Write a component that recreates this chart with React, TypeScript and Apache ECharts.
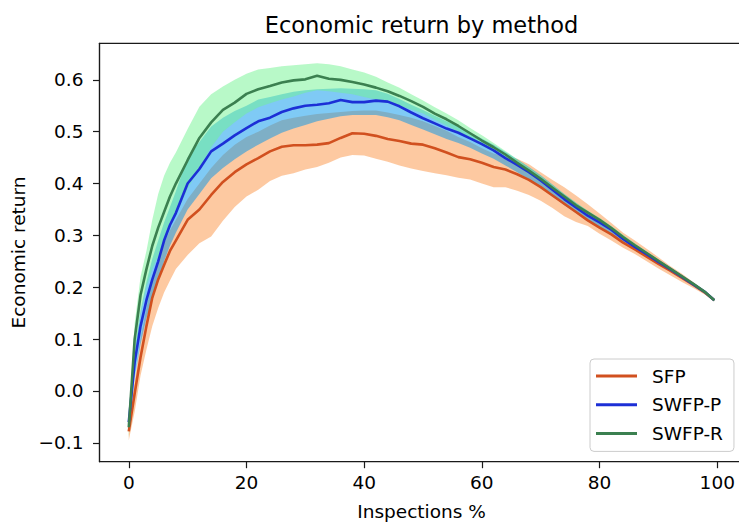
import React, { useEffect, useRef } from 'react';
import * as echarts from 'echarts';

const xs = [0, 1, 2, 3, 4, 5, 6, 7, 8, 10, 12, 14, 16, 18, 20, 22, 24, 26, 28, 30, 32, 34, 36, 38, 40, 42, 44, 46, 48, 50, 52, 54, 56, 58, 60, 62, 64, 66, 68, 70, 72, 74, 76, 78, 80, 82, 84, 86, 88, 90, 92, 94, 96, 98, 99.5];

const sfpMean = [-0.078, -0.005, 0.065, 0.125, 0.18, 0.215, 0.243, 0.27, 0.29, 0.33, 0.35, 0.378, 0.403, 0.422, 0.437, 0.449, 0.462, 0.471, 0.474, 0.474, 0.475, 0.478, 0.488, 0.497, 0.496, 0.492, 0.486, 0.482, 0.477, 0.475, 0.468, 0.46, 0.451, 0.447, 0.44, 0.432, 0.427, 0.418, 0.407, 0.393, 0.377, 0.361, 0.345, 0.329, 0.315, 0.302, 0.286, 0.273, 0.259, 0.245, 0.232, 0.218, 0.204, 0.189, 0.175];
const sfpUpper = [-0.072, 0.02, 0.1, 0.16, 0.215, 0.255, 0.285, 0.31, 0.33, 0.37, 0.4, 0.43, 0.455, 0.475, 0.49, 0.5, 0.512, 0.522, 0.527, 0.531, 0.534, 0.536, 0.538, 0.54, 0.541, 0.541, 0.537, 0.532, 0.527, 0.52, 0.511, 0.502, 0.49, 0.48, 0.468, 0.458, 0.452, 0.448, 0.437, 0.422, 0.407, 0.393, 0.377, 0.36, 0.342, 0.324, 0.305, 0.29, 0.274, 0.258, 0.241, 0.226, 0.209, 0.192, 0.177];
const sfpLower = [-0.095, -0.04, 0.03, 0.08, 0.125, 0.16, 0.19, 0.213, 0.235, 0.262, 0.285, 0.298, 0.328, 0.355, 0.375, 0.388, 0.405, 0.415, 0.42, 0.427, 0.432, 0.44, 0.45, 0.455, 0.454, 0.448, 0.442, 0.435, 0.429, 0.424, 0.42, 0.416, 0.411, 0.408, 0.4, 0.393, 0.393, 0.386, 0.378, 0.367, 0.353, 0.337, 0.326, 0.318, 0.303, 0.29, 0.276, 0.264, 0.25, 0.236, 0.223, 0.21, 0.198, 0.185, 0.173];

const swfpPMean = [-0.06, 0.055, 0.125, 0.175, 0.215, 0.25, 0.29, 0.32, 0.343, 0.4, 0.428, 0.462, 0.477, 0.493, 0.507, 0.52, 0.527, 0.538, 0.545, 0.55, 0.552, 0.555, 0.561, 0.557, 0.557, 0.56, 0.558, 0.549, 0.537, 0.526, 0.516, 0.506, 0.498, 0.487, 0.476, 0.464, 0.449, 0.436, 0.422, 0.406, 0.388, 0.37, 0.354, 0.338, 0.325, 0.311, 0.293, 0.278, 0.264, 0.249, 0.235, 0.22, 0.205, 0.19, 0.175];
const swfpPUpper = [-0.05, 0.08, 0.155, 0.21, 0.255, 0.29, 0.325, 0.355, 0.385, 0.45, 0.48, 0.51, 0.527, 0.54, 0.55, 0.562, 0.567, 0.572, 0.577, 0.58, 0.582, 0.583, 0.584, 0.583, 0.582, 0.58, 0.573, 0.563, 0.552, 0.542, 0.531, 0.52, 0.51, 0.499, 0.487, 0.475, 0.461, 0.447, 0.432, 0.416, 0.398, 0.38, 0.363, 0.347, 0.332, 0.317, 0.299, 0.283, 0.268, 0.253, 0.238, 0.223, 0.207, 0.192, 0.176];
const swfpPLower = [-0.075, 0.025, 0.09, 0.14, 0.175, 0.21, 0.25, 0.28, 0.305, 0.35, 0.38, 0.41, 0.43, 0.447, 0.462, 0.475, 0.487, 0.498, 0.506, 0.513, 0.52, 0.525, 0.53, 0.532, 0.532, 0.532, 0.528, 0.522, 0.513, 0.504, 0.495, 0.486, 0.478, 0.469, 0.458, 0.448, 0.435, 0.422, 0.408, 0.393, 0.376, 0.358, 0.343, 0.327, 0.315, 0.302, 0.286, 0.272, 0.258, 0.244, 0.231, 0.217, 0.203, 0.188, 0.174];

const swfpRMean = [-0.07, 0.1, 0.185, 0.235, 0.28, 0.315, 0.345, 0.375, 0.4, 0.445, 0.488, 0.518, 0.542, 0.556, 0.573, 0.582, 0.588, 0.595, 0.599, 0.601, 0.608, 0.602, 0.6, 0.596, 0.591, 0.585, 0.578, 0.569, 0.559, 0.548, 0.535, 0.524, 0.511, 0.497, 0.483, 0.47, 0.456, 0.44, 0.425, 0.409, 0.392, 0.375, 0.358, 0.344, 0.33, 0.314, 0.297, 0.281, 0.266, 0.251, 0.236, 0.221, 0.206, 0.19, 0.175];
const swfpRUpper = [-0.055, 0.13, 0.22, 0.27, 0.33, 0.38, 0.415, 0.44, 0.46, 0.505, 0.548, 0.572, 0.587, 0.6, 0.612, 0.62, 0.623, 0.626, 0.628, 0.63, 0.632, 0.63, 0.626, 0.62, 0.614, 0.606, 0.595, 0.585, 0.572, 0.56, 0.547, 0.535, 0.522, 0.507, 0.493, 0.478, 0.463, 0.447, 0.431, 0.415, 0.397, 0.38, 0.363, 0.348, 0.334, 0.318, 0.301, 0.285, 0.269, 0.253, 0.238, 0.223, 0.207, 0.191, 0.176];
const swfpRLower = [-0.09, 0.07, 0.15, 0.2, 0.235, 0.26, 0.29, 0.315, 0.34, 0.39, 0.43, 0.47, 0.5, 0.518, 0.535, 0.547, 0.555, 0.562, 0.568, 0.575, 0.58, 0.578, 0.575, 0.572, 0.567, 0.562, 0.558, 0.55, 0.543, 0.535, 0.523, 0.512, 0.5, 0.487, 0.473, 0.462, 0.449, 0.434, 0.419, 0.403, 0.387, 0.37, 0.353, 0.34, 0.326, 0.31, 0.293, 0.277, 0.263, 0.249, 0.234, 0.219, 0.204, 0.189, 0.174];

const seriesNames = ['SFP', 'SWFP-P', 'SWFP-R'];
const xTicks = [0, 20, 40, 60, 80, 100];
const yTicks = [-0.1, 0, 0.1, 0.2, 0.3, 0.4, 0.5, 0.6];

const FONT = 'DejaVu Sans';

function band(name: string, upper: number[], lower: number[], fill: string) {
  return {
    type: 'custom',
    name: name + ' band',
    silent: true,
    z: 1,
    data: [[xs[0], upper[0]]],
    renderItem: (_params: any, api: any) => {
      const pts: number[][] = [];
      for (let i = 0; i < xs.length; i++) pts.push(api.coord([xs[i], upper[i]]));
      for (let i = xs.length - 1; i >= 0; i--) pts.push(api.coord([xs[i], lower[i]]));
      return { type: 'polygon', shape: { points: pts }, style: { fill } };
    },
  };
}

function line(name: string, vals: number[], color: string) {
  return {
    type: 'line',
    name,
    z: 3,
    color,
    symbol: 'none',
    showSymbol: false,
    lineStyle: { color, width: 2.6 },
    data: xs.map((x, i) => [x, vals[i]]),
  };
}

export default function App() {
  const ref = useRef<HTMLDivElement>(null);
  useEffect(() => {
    const chart = echarts.init(ref.current!, null, { renderer: 'svg' });
    const option: any = {
      animation: false,
      backgroundColor: '#ffffff',
      grid: {
        left: 99.5,
        top: 43.3,
        width: 644.1,
        height: 418.4,
        outerBoundsMode: 'none',
        containLabel: false,
        show: true,
        borderColor: '#1a1a1a',
        borderWidth: 1.2,
        backgroundColor: 'transparent',
      },
      graphic: [
        {
          type: 'text',
          x: 421.5,
          y: 25,
          style: {
            text: 'Economic return by method',
            align: 'center',
            verticalAlign: 'middle',
            fontFamily: FONT,
            fontSize: 22.5,
            fill: '#000',
          },
        },
      ],
      legend: {
        data: seriesNames,
        orient: 'vertical',
        left: 590,
        top: 359,
        icon: 'rect',
        itemWidth: 41,
        itemHeight: 3,
        itemGap: 8.7,
        padding: [7, 11, 8, 6],
        backgroundColor: 'rgba(255,255,255,0.8)',
        borderColor: '#cccccc',
        borderWidth: 1,
        borderRadius: 4,
        textStyle: {
          fontFamily: FONT,
          fontSize: 18.5,
          color: '#000',
          lineHeight: 20,
          padding: [0, 0, 0, 10],
        },
      },
      xAxis: {
        type: 'value',
        min: -4.975,
        max: 104.475,
        name: 'Inspections %',
        nameLocation: 'middle',
        nameGap: 40,
        nameTextStyle: { fontFamily: FONT, fontSize: 18.5, color: '#000' },
        axisLine: { show: true, onZero: false, lineStyle: { color: '#1a1a1a', width: 1.2 } },
        axisTick: { show: true, length: 6.5, customValues: xTicks, lineStyle: { color: '#1a1a1a', width: 1.2 } },
        axisLabel: {
          customValues: xTicks,
          margin: 11,
          fontFamily: FONT,
          fontSize: 18.5,
          color: '#000',
          formatter: (v: number) => String(v),
        },
        splitLine: { show: false },
      },
      yAxis: {
        type: 'value',
        min: -0.1365,
        max: 0.6705,
        name: 'Economic return',
        nameLocation: 'middle',
        nameRotate: 90,
        nameGap: 66,
        nameTextStyle: { fontFamily: FONT, fontSize: 18.5, color: '#000' },
        axisLine: { show: true, onZero: false, lineStyle: { color: '#1a1a1a', width: 1.2 } },
        axisTick: { show: true, length: 6.5, customValues: yTicks, lineStyle: { color: '#1a1a1a', width: 1.2 } },
        axisLabel: {
          customValues: yTicks,
          margin: 16,
          fontFamily: FONT,
          fontSize: 18.5,
          color: '#000',
          formatter: (v: number) => (v < -1e-9 ? '\u2212' + Math.abs(v).toFixed(1) : Math.abs(v).toFixed(1)),
        },
        splitLine: { show: false },
      },
      series: [
        band('SFP', sfpUpper, sfpLower, 'rgba(251,147,67,0.5)'),
        band('SWFP-P', swfpPUpper, swfpPLower, 'rgba(0,150,235,0.5)'),
        band('SWFP-R', swfpRUpper, swfpRLower, 'rgba(113,243,145,0.5)'),
        line('SFP', sfpMean, '#d1501f'),
        line('SWFP-P', swfpPMean, '#1c2fd6'),
        line('SWFP-R', swfpRMean, '#3b8050'),
      ],
    };
    chart.setOption(option);
    return () => chart.dispose();
  }, []);
  return <div ref={ref} style={{ position: 'fixed', left: 0, top: 0, width: 739, height: 522 }} />;
}
